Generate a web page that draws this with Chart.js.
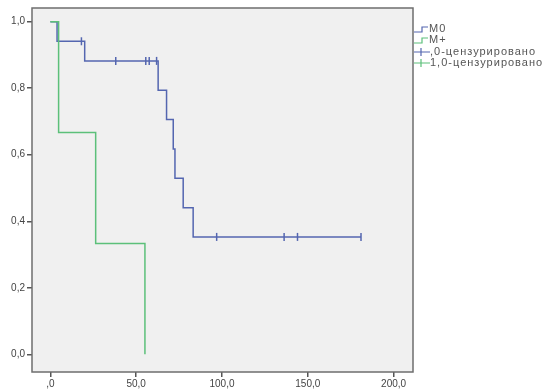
<!DOCTYPE html>
<html>
<head>
<meta charset="utf-8">
<script src="https://cdn.jsdelivr.net/npm/chart.js@4/dist/chart.umd.min.js"></script>
<style>
  html, body { margin: 0; padding: 0; background: #fff; }
  #wrap { width: 548px; height: 392px; }
</style>
</head>
<body>
<div id="wrap"><canvas id="chart" width="548" height="392"></canvas></div>
<script>
// survival curve M0: time of each step and survival after it
const m0Times = [0, 3.9, 20.0, 62.8, 67.7, 71.6, 72.6, 77.4, 83.2, 181.0];
const m0Surv  = [1.0, 0.941, 0.882, 0.794, 0.706, 0.617, 0.529, 0.441, 0.353, 0.353];
// censored cases M0
const m0CensTimes = [18.1, 38.1, 55.6, 57.6, 61.9, 96.9, 136.2, 144.0, 181.0];
const m0CensSurv  = [0.941, 0.882, 0.882, 0.882, 0.882, 0.353, 0.353, 0.353, 0.353];

// survival curve M+
const mpTimes = [0, 4.8, 26.4, 55.1];
const mpSurv  = [1.0, 0.667, 0.333, 0.0];

const xTicks = [0, 50, 100, 150, 200];
const xTickLabels = [",0", "50,0", "100,0", "150,0", "200,0"];
const yTicks = [0, 0.2, 0.4, 0.6, 0.8, 1.0];
const yTickLabels = ["0,0", "0,2", "0,4", "0,6", "0,8", "1,0"];

const legendLabels = ["M0", "M+", ",0-цензурировано", "1,0-цензурировано"];

const blue = "#5466b0";
const green = "#5cc07a";
const font = "Liberation Sans, Arial, sans-serif";

function pts(xs, ys) {
    return xs.map((x, i) => ({ x: x, y: ys[i] }));
}

// plot background + frame
const framePlugin = {
    id: "frame",
    beforeDatasetsDraw(chart) {
        const a = chart.chartArea, c = chart.ctx;
        c.save();
        c.fillStyle = "#f0f0f0";
        c.fillRect(a.left, a.top, a.right - a.left, a.bottom - a.top);
        c.restore();
    },
    afterDraw(chart) {
        const a = chart.chartArea, c = chart.ctx;
        c.save();
        c.strokeStyle = "#6e6e6e";
        c.lineWidth = 1.5;
        c.strokeRect(a.left, a.top, a.right - a.left, a.bottom - a.top);

        // legend on the right
        c.font = "11px " + font;
        c.letterSpacing = "1px";
        c.fillStyle = "#555";
        c.textBaseline = "middle";
        c.lineWidth = 1.2;
        const x0 = a.right + 1;
        const rows = [29, 40, 52, 63];
        const cols = [blue, green, blue, green];
        rows.forEach((y, i) => {
            c.strokeStyle = cols[i];
            c.beginPath();
            if (i < 2) {
                c.moveTo(x0, y + 3); c.lineTo(x0 + 8, y + 3);
                c.lineTo(x0 + 8, y - 2); c.lineTo(x0 + 14, y - 2);
                c.stroke();
                c.fillText(legendLabels[i], x0 + 15, y);
            } else {
                c.moveTo(x0, y); c.lineTo(x0 + 16, y);
                c.moveTo(x0 + 7, y - 4); c.lineTo(x0 + 7, y + 4);
                c.stroke();
                c.fillText(legendLabels[i], x0 + 16, y);
            }
        });
        c.restore();
    }
};

new Chart(document.getElementById("chart").getContext("2d"), {
    type: "line",
    data: {
        datasets: [
            {
                label: "M0",
                data: pts(m0Times, m0Surv),
                stepped: "before",
                borderColor: blue,
                borderWidth: 1.5,
                pointRadius: 0,
                fill: false,
                order: 2
            },
            {
                label: "M+",
                data: pts(mpTimes, mpSurv),
                stepped: "before",
                borderColor: green,
                borderWidth: 1.5,
                pointRadius: 0,
                fill: false,
                order: 1
            },
            {
                label: ",0-цензурировано",
                data: pts(m0CensTimes, m0CensSurv),
                showLine: false,
                pointStyle: "line",
                rotation: 90,
                pointRadius: 4,
                borderColor: blue,
                pointBorderWidth: 1.5,
                order: 0
            }
        ]
    },
    options: {
        responsive: false,
        animation: false,
        layout: { padding: { left: 0, top: 1, right: 135, bottom: 0 } },
        plugins: {
            legend: { display: false },
            tooltip: { enabled: false }
        },
        scales: {
            x: {
                type: "linear",
                min: -10.7,
                max: 211.3,
                afterBuildTicks(s) { s.ticks = xTicks.map(v => ({ value: v })); },
                afterFit(s) { s.height = 20; },
                border: { display: false },
                grid: { drawOnChartArea: false, drawTicks: true, tickLength: 5, color: "#555", lineWidth: 1.5 },
                ticks: {
                    padding: 1,
                    color: "#444",
                    font: { family: font, size: 10 },
                    callback(v) { return xTickLabels[xTicks.indexOf(v)]; }
                }
            },
            y: {
                type: "linear",
                min: -0.053,
                max: 1.041,
                afterBuildTicks(s) { s.ticks = yTicks.map(v => ({ value: v })); },
                afterFit(s) { s.width = 32; },
                border: { display: false },
                grid: { drawOnChartArea: false, drawTicks: true, tickLength: 5, color: "#555", lineWidth: 1.5 },
                ticks: {
                    padding: 2,
                    color: "#444",
                    font: { family: font, size: 10 },
                    callback(v) {
                        const i = yTicks.findIndex(t => Math.abs(t - v) < 1e-6);
                        return i >= 0 ? yTickLabels[i] : "";
                    }
                }
            }
        }
    },
    plugins: [framePlugin]
});
</script>
</body>
</html>
